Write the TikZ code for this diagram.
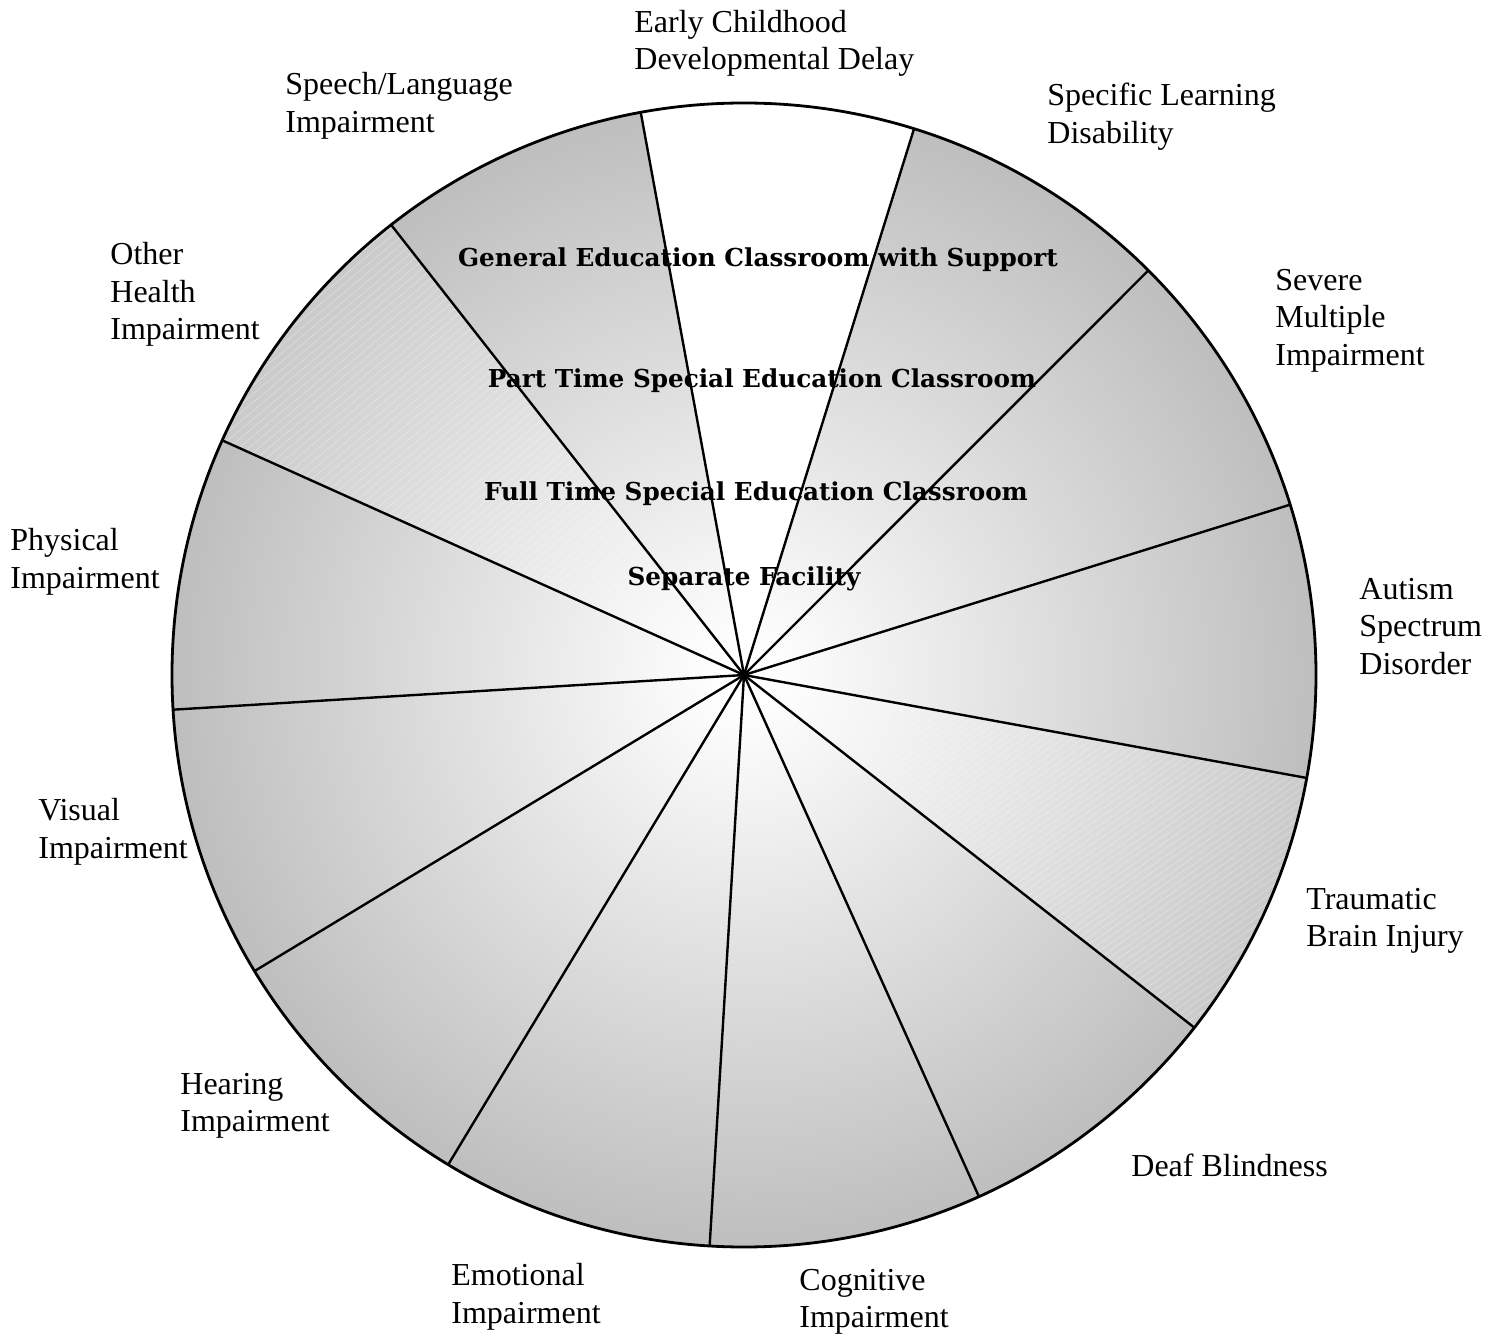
\documentclass[tikz,border=0pt]{standalone}
\usepackage{fontspec}
\setmainfont{Liberation Serif}
\newfontfamily\centerfont{DejaVu Serif}
\definecolor{rimgray}{RGB}{190,190,190}
\definecolor{rimlight}{RGB}{202,202,202}
\pgfdeclareradialshading{wheel}{\pgfpoint{0bp}{0bp}}{color(0bp)=(white); color(1bp)=(white); color(25bp)=(rimgray); color(50bp)=(rimgray)}
\pgfdeclareradialshading{wheellight}{\pgfpoint{0bp}{0bp}}{color(0bp)=(white); color(1bp)=(white); color(25bp)=(rimlight); color(50bp)=(rimlight)}
\begin{document}
\begin{tikzpicture}[x=0.5pt,y=-0.5pt,
  outer/.style={anchor=north west, inner sep=0pt, align=left, font=\fontsize{16}{18.7}\selectfont},
  ring/.style={inner sep=0pt, font=\centerfont\bfseries\fontsize{12.35}{14}\selectfont},
  spoke/.style={line width=1.2pt},
  hatch/.style={white, opacity=0.35, line width=0.3pt}]
\useasboundingbox (0,0) rectangle (1501,1337);
\coordinate (c) at (744,675);
\begin{scope}[shift={(c)}, x=0.5pt, y=0.5pt]
  \shade[shading=wheel] (0,0) circle[radius=572];
  % Early Childhood sector: white
  \fill[white] (0,0) -- (100.4:572) arc[start angle=100.4, end angle=72.71, radius=572] -- cycle;
  % Other Health sector: lighter with fine hatching
  \begin{scope}
    \clip (0,0) -- (155.8:572) arc[start angle=155.8, end angle=128.1, radius=572] -- cycle;
    \shade[shading=wheellight] (0,0) circle[radius=572];
    \foreach \t in {-2300,-2290,...,800} { \draw[hatch] (\t,-700) -- ++(40:2200); }
  \end{scope}
  % Traumatic Brain Injury sector: lighter with fine hatching
  \begin{scope}
    \clip (0,0) -- (-10.37:572) arc[start angle=-10.37, end angle=-38.06, radius=572] -- cycle;
    \shade[shading=wheellight] (0,0) circle[radius=572];
    \foreach \t in {-2300,-2290,...,800} { \draw[hatch] (\t,-700) -- ++(35:2200); }
  \end{scope}
  \foreach \k in {0,...,12} { \coordinate (p\k) at ({100.4-27.6923*\k}:572); }
\end{scope}
\foreach \k in {0,...,12} { \draw[spoke] (c) -- (p\k); }
\draw[line width=1.4pt] (c) circle[radius=572];

\node[ring] (r1) at (758,260) {General Education Classroom with Support};
\node[ring] (r2) at (762,381) {Part Time Special Education Classroom};
\node[ring] (r3) at (756,494) {Full Time Special Education Classroom};
\node[ring] (r4) at (744,579) {Separate Facility};

\node[outer] (l1) at (634,10) {Early Childhood\\Developmental Delay};
\node[outer] (l2) at (285,72) {Speech/Language\\Impairment};
\node[outer] (l3) at (1047,83) {Specific Learning\\Disability};
\node[outer] (l4) at (110,242) {Other\\Health\\Impairment};
\node[outer] (l5) at (1275,269) {Severe\\Multiple\\Impairment};
\node[outer] (l6) at (10,528) {Physical\\Impairment};
\node[outer] (l7) at (1359,578) {Autism\\Spectrum\\Disorder};
\node[outer] (l8) at (38,798) {Visual\\Impairment};
\node[outer] (l9) at (1306,888) {Traumatic\\Brain Injury};
\node[outer] (l10) at (180,1073) {Hearing\\Impairment};
\node[outer] (l11) at (1131,1154) {Deaf Blindness};
\node[outer] (l12) at (451,1263) {Emotional\\Impairment};
\node[outer] (l13) at (799,1269) {Cognitive\\Impairment};
\end{tikzpicture}
\end{document}
